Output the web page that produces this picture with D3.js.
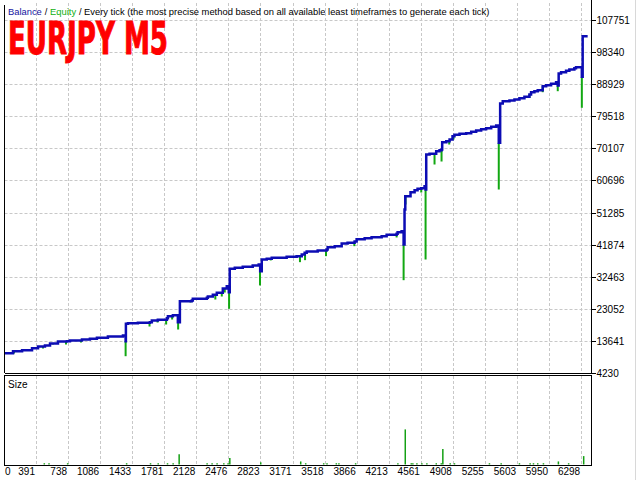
<!DOCTYPE html>
<html><head><meta charset="utf-8">
<script src="https://cdn.jsdelivr.net/npm/d3@7"></script>
<style>body{margin:0;background:#fff}svg{display:block}</style>
</head><body>
<svg id="c" width="640" height="480"></svg>
<script>
// ---- data ----
const xTicks = [0,391,738,1086,1433,1781,2128,2476,2823,3171,3518,3866,4213,4561,4908,5255,5603,5950,6298];
const yTicks = [4230,13641,23052,32463,41874,51285,60696,70107,79518,88929,98340,107751];

const balanceTrades = [50,142,240,348,413,488,543,629,726,759,889,975,1051,1170,1300,1333,1362,1365,1387,1495,1625,1646,1711,1809,1820,1874,1928,1950,2079,2090,2242,2253,2307,2350,2415,2458,2480,2490,2545,2631,2739,2804,2820,2837,2891,2945,3107,3215,3270,3302,3324,3443,3540,3551,3627,3703,3767,3843,3865,3952,4027,4136,4190,4298,4309,4352,4374,4384,4392,4417,4449,4493,4525,4565,4601,4612,4619,4655,4709,4727,4763,4785,4792,4836,4872,4904,4925,4980,5052,5106,5160,5214,5268,5323,5377,5405,5420,5448,5521,5575,5629,5683,5737,5755,5791,5827,5881,5918,5972,6026,6044,6054,6080,6134,6170,6224,6242,6297,6305,6314,6368];
const balanceValues = [10000,10620,10913,11500,12000,12293,12880,13466,13554,13760,14053,14258,14551,14933,14933,15226,13554,18650,18826,18943,19119,19618,19823,20292,20879,21172,19100,25285,25490,25989,26282,26663,27162,27748,29009,29684,27900,34786,35079,35372,35754,36047,34082,37514,37720,38013,38306,38482,38981,39479,39860,40153,40447,41121,41414,42206,42412,42793,43467,43761,44054,44347,44758,45051,45520,45813,41914,52176,56076,56076,57249,57836,58246,58422,59009,58041,68306,68511,68511,69273,69567,69772,71913,72207,72705,73673,74084,74377,74553,74963,75344,75725,76019,76429,76810,71737,83263,83938,84143,84436,84817,85228,85902,86577,86870,87163,88336,88630,89040,89509,88542,92061,92442,92853,93234,93615,93908,93908,91093,103000,103000];

const equityDipTrades = [153,467,575,716,878,1362,1621,1708,1801,1866,1931,2065,2334,2404,2436,2483,2818,2934,3251,3306,3533,3840,4298,4374,4395,4565,4612,4709,4785,4868,4915,5405,5737,5881,6044,6305];
const equityDipLows   = [9947,11413,12586,12586,13173,9157,17863,19036,18450,19916,16984,24902,25781,26661,27835,23054,29905,37236,36738,37325,38498,41430,43982,31448,53643,57163,37514,65374,66254,71239,72705,58041,84935,86577,86870,82001];

const sizeTrades = [481,532,734,1373,1632,1715,1816,1877,1942,2245,2299,2353,2426,2472,2491,2826,3259,3313,3508,3544,3645,3673,3854,4312,4392,4457,4474,4518,4572,4626,4728,4782,4799,4879,4925,5304,5431,5629,5745,5781,5827,5889,6051,6162,6325];
const sizeLots   = [0.01,0.01,0.01,0.01,0.01,0.01,0.01,0.01,0.06,0.01,0.01,0.01,0.01,0.01,0.04,0.015,0.02,0.01,0.01,0.01,0.01,0.01,0.01,0.01,0.2,0.01,0.01,0.01,0.01,0.01,0.01,0.01,0.09,0.01,0.01,0.01,0.01,0.01,0.01,0.01,0.01,0.01,0.02,0.01,0.05];

const headerParts = [["Balance","#1414a0"],["/","#000"],["Equity","#10b010"],["/ Every tick (the most precise method based on all available least timeframes to generate each tick)","#000"]];
const titleText = "EURJPY M5";

// ---- layout ----
const svg = d3.select("#c");
const L = 4.5, R = 591.5, T = 3, B = 373, ST = 376, SB = 465;
const x = d3.scaleLinear().domain([391, 6298]).range([36, 36 + 17 * 32.07]);
const y = d3.scaleLinear().domain([4230, 107751]).range([373, 20]);
const ys = d3.scaleLinear().domain([0, 0.5]).range([SB, ST]);

const gridCol = "#c8c8c8";
const g = svg.append("g");

// vertical grid (main + size)
xTicks.filter(t => t > 0).forEach(t => {
  const xx = Math.round(x(t)) + 0.5;
  g.append("line").attr("x1", xx).attr("x2", xx).attr("y1", T).attr("y2", B)
    .attr("stroke", gridCol).attr("stroke-dasharray", "3,2");
  g.append("line").attr("x1", xx).attr("x2", xx).attr("y1", ST).attr("y2", SB)
    .attr("stroke", gridCol).attr("stroke-dasharray", "3,2");
});
// horizontal grid
yTicks.filter(v => v > 4230).forEach(v => {
  const yy = Math.round(y(v)) + 0.5;
  g.append("line").attr("x1", L).attr("x2", R).attr("y1", yy).attr("y2", yy)
    .attr("stroke", gridCol).attr("stroke-dasharray", "3,2");
});

// balance lookup
const balPts = balanceTrades.map((t, i) => [t, balanceValues[i]]);
function balanceAt(t) {
  let v = balPts[0][1];
  for (const p of balPts) { if (p[0] <= t) v = p[1]; else break; }
  return v;
}

// equity dips
equityDipTrades.forEach((t, i) => {
  svg.append("line").attr("x1", x(t)).attr("x2", x(t))
    .attr("y1", y(balanceAt(t))).attr("y2", y(equityDipLows[i]))
    .attr("stroke", "#12a812").attr("stroke-width", 2);
});

// balance line
const line = d3.line().x(d => x(d[0])).y(d => y(d[1])).curve(d3.curveStepAfter);
svg.append("path").datum(balPts).attr("d", line)
  .attr("fill", "none").attr("stroke", "#0c0cb4").attr("stroke-width", 2.5)
  .attr("stroke-linejoin", "miter");

// size bars
sizeTrades.forEach((t, i) => {
  svg.append("line").attr("x1", x(t)).attr("x2", x(t))
    .attr("y1", ys(0) - 0.5).attr("y2", ys(sizeLots[i]))
    .attr("stroke", "#14a014").attr("stroke-width", 1.5);
});

// frames
const fr = svg.append("g").attr("stroke", "#000").attr("stroke-width", 1).attr("fill", "none").attr("shape-rendering", "crispEdges");
fr.append("line").attr("x1", L).attr("x2", L).attr("y1", T + 2).attr("y2", B);
fr.append("line").attr("x1", R).attr("x2", R).attr("y1", 0).attr("y2", B);
fr.append("line").attr("x1", L).attr("x2", R + 4).attr("y1", B + 0.5).attr("y2", B + 0.5);
fr.append("rect").attr("x", L).attr("y", ST - 0.5).attr("width", R - L).attr("height", SB - ST + 0.5);

// right axis
yTicks.forEach(v => {
  const yy = Math.round(y(v)) + 0.5;
  svg.append("line").attr("x1", R).attr("x2", R + 4).attr("y1", yy).attr("y2", yy)
    .attr("stroke", "#000").attr("shape-rendering", "crispEdges");
  svg.append("text").attr("x", R + 5).attr("y", yy + 3.5)
    .attr("font-family", "Liberation Sans, Arial, sans-serif").attr("font-size", 10)
    .attr("fill", "#000").text(v);
});

// bottom axis labels
xTicks.forEach(t => {
  const t0 = svg.append("text").attr("y", 475)
    .attr("font-family", "Liberation Sans, Arial, sans-serif").attr("font-size", 10)
    .attr("fill", "#000").text(t);
  if (t === 0) t0.attr("x", 5).attr("text-anchor", "start");
  else t0.attr("x", x(t) - 1).attr("text-anchor", "end");
});

// header: separate texts placed side by side with a gap, spanning ~481px
const hFont = "Liberation Sans, Arial, sans-serif";
const baseSize = 10.5;
const probe = svg.append("text").attr("font-family", hFont).attr("font-size", baseSize)
  .style("white-space", "pre").text(headerParts.map(p => p[0]).join(" "));
const full = probe.node().getComputedTextLength();
probe.remove();
const hSize = baseSize * 481 / full;
const gap = hSize * 0.3;
let hx = 8;
headerParts.forEach(p => {
  const tx = svg.append("text").attr("x", hx).attr("y", 15)
    .attr("font-family", hFont).attr("font-size", hSize)
    .attr("fill", p[1]).text(p[0]);
  const w = tx.node().getComputedTextLength();
  tx.attr("textLength", w.toFixed(2)).attr("lengthAdjust", "spacingAndGlyphs");
  hx += w + gap;
});

// title
svg.append("text").attr("x", 8).attr("y", 54)
  .attr("font-family", "Liberation Sans Narrow, DejaVu Sans Condensed, Arial Narrow, sans-serif")
  .attr("font-weight", "bold").attr("font-size", 44).attr("fill", "#ff0000")
  .attr("stroke", "#ff0000").attr("stroke-width", 1)
  .attr("textLength", 160).attr("lengthAdjust", "spacingAndGlyphs")
  .text(titleText);

// size label
svg.append("text").attr("x", 8).attr("y", 388)
  .attr("font-family", "Liberation Sans, Arial, sans-serif").attr("font-size", 10)
  .attr("fill", "#000").text("Size");

// window edge
svg.append("line").attr("x1", 635.5).attr("x2", 635.5).attr("y1", 0).attr("y2", 480)
  .attr("stroke", "#d8d8d8");
</script>
</body></html>
